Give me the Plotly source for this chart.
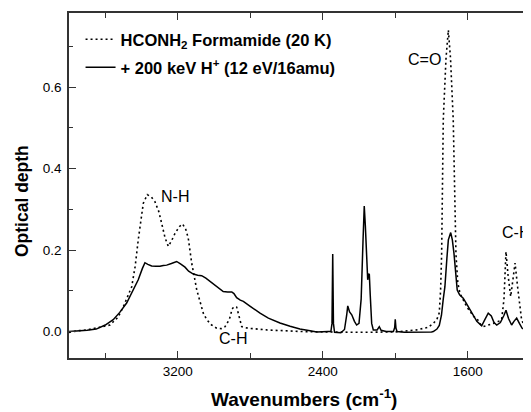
import plotly.graph_objects as go

# Formamide (20 K) - dotted
wn_pure = [3800, 3750, 3700, 3629, 3574, 3530, 3500, 3454, 3435, 3418, 3400, 3390, 3368,
           3345, 3326, 3305, 3289, 3270, 3252, 3235, 3215, 3190, 3173, 3155, 3142, 3123,
           3095, 3077, 3059, 3040, 3013, 2985, 2960, 2939, 2915, 2900, 2890, 2875, 2862,
           2847, 2811, 2709, 2526, 2433, 2200, 2000, 1882, 1820, 1790, 1770, 1757, 1750,
           1744, 1735, 1720, 1707, 1695, 1680, 1665, 1655, 1643, 1625, 1606, 1580, 1569,
           1551, 1530, 1514, 1490, 1459, 1430, 1413, 1400, 1389, 1378, 1363, 1350, 1339,
           1325, 1303, 1284, 1250]
od_pure = [-0.002, 0.002, 0.004, 0.010, 0.016, 0.035, 0.061, 0.110, 0.160, 0.225, 0.290, 0.315, 0.336,
           0.330, 0.319, 0.295, 0.266, 0.230, 0.209, 0.222, 0.241, 0.258, 0.264, 0.250, 0.229, 0.168,
           0.102, 0.070, 0.045, 0.029, 0.016, 0.008, 0.007, 0.012, 0.030, 0.055, 0.061, 0.060, 0.035,
           0.012, 0.008, 0.004, 0.000, -0.001, -0.002, -0.001, 0.004, 0.010, 0.020, 0.030, 0.046, 0.100,
           0.190, 0.520, 0.670, 0.740, 0.670, 0.520, 0.190, 0.120, 0.094, 0.078, 0.061, 0.045, 0.037,
           0.033, 0.018, 0.012, 0.015, 0.020, 0.025, 0.029, 0.080, 0.196, 0.140, 0.086, 0.130, 0.168,
           0.110, 0.029, 0.010, 0.000]

# + 200 keV H+ irradiated - solid
wn_irr = [3800, 3750, 3700, 3650, 3629, 3600, 3556, 3520, 3482, 3454, 3418, 3395, 3381, 3365,
          3344, 3320, 3298, 3280, 3261, 3235, 3206, 3185, 3160, 3140, 3114, 3090, 3068, 3045,
          3022, 2995, 2967, 2949, 2925, 2902, 2890, 2875, 2855, 2838, 2800, 2746, 2700, 2636,
          2580, 2526, 2470, 2433, 2371, 2355, 2349, 2345, 2341, 2335, 2300, 2280, 2268, 2262,
          2252, 2240, 2225, 2213, 2200, 2188, 2178, 2171, 2165, 2158, 2152, 2147, 2143, 2138,
          2130, 2121, 2100, 2088, 2078, 2050, 2010, 2003, 2000, 1996, 1990, 1950, 1882, 1800,
          1790, 1770, 1757, 1745, 1735, 1726, 1715, 1707, 1694, 1685, 1676, 1665, 1658, 1645,
          1625, 1606, 1588, 1569, 1550, 1530, 1523, 1505, 1487, 1470, 1455, 1440, 1420, 1400,
          1389, 1375, 1358, 1345, 1330, 1315, 1300, 1284, 1250]
od_irr = [0.000, 0.001, 0.003, 0.006, 0.010, 0.016, 0.029, 0.047, 0.070, 0.094, 0.127, 0.155, 0.169, 0.165,
          0.161, 0.160, 0.160, 0.162, 0.163, 0.167, 0.172, 0.166, 0.158, 0.148, 0.141, 0.138, 0.137, 0.131,
          0.123, 0.112, 0.102, 0.098, 0.097, 0.097, 0.093, 0.083, 0.077, 0.074, 0.062, 0.045, 0.033, 0.021,
          0.013, 0.006, 0.002, -0.001, 0.000, 0.000, 0.020, 0.190, 0.020, -0.002, -0.003, 0.005, 0.040, 0.063,
          0.048, 0.041, 0.025, 0.016, 0.020, 0.080, 0.220, 0.308, 0.260, 0.160, 0.127, 0.142, 0.140, 0.090,
          0.020, 0.004, 0.004, 0.012, 0.003, 0.000, 0.000, 0.010, 0.030, 0.008, 0.000, -0.002, -0.002, -0.001,
          0.000, 0.006, 0.015, 0.040, 0.080, 0.110, 0.180, 0.225, 0.243, 0.225, 0.192, 0.140, 0.102, 0.090,
          0.082, 0.068, 0.053, 0.038, 0.025, 0.017, 0.014, 0.030, 0.045, 0.038, 0.022, 0.016, 0.022, 0.040,
          0.052, 0.032, 0.016, 0.025, 0.033, 0.020, 0.008, 0.004, 0.008]

x_major = [3200, 2400, 1600]
x_minor = [3600, 2800, 2000]
y_major = [0.0, 0.2, 0.4, 0.6]
y_minor = [0.1, 0.3, 0.5, 0.7]

band_labels = ["N-H", "C-H", "C=O", "C-H"]
band_x = [3215, 2895, 1841, 1334]
band_y = [0.331, -0.018, 0.667, 0.242]

FONT = "Liberation Sans, Arial, Helvetica, sans-serif"

fig = go.Figure()
fig.add_trace(go.Scatter(
    x=wn_pure, y=od_pure, mode="lines",
    name="<b>HCONH<sub>2</sub> Formamide (20 K)</b>",
    line=dict(color="black", width=1.6, dash="2px,3px"),
    legend="legend",
))
fig.add_trace(go.Scatter(
    x=wn_irr, y=od_irr, mode="lines",
    name="<b>+ 200 keV H<sup>+</sup> (12 eV/16amu)</b>",
    line=dict(color="black", width=1.5),
    legend="legend2",
))

for t, bx, by in zip(band_labels, band_x, band_y):
    fig.add_annotation(x=bx, y=by, text=t, showarrow=False,
                       xanchor="center", yanchor="middle",
                       font=dict(family=FONT, size=16, color="black"))

fig.add_annotation(xref="paper", yref="paper", x=0.509, y=-0.116,
                   xanchor="center", yanchor="middle",
                   text="<b>Wavenumbers (cm<sup>-1</sup>)</b>", showarrow=False,
                   font=dict(family=FONT, size=19, color="black"))
fig.add_annotation(xref="paper", yref="paper", x=-0.1017, y=0.455,
                   xanchor="center", yanchor="middle",
                   text="<b>Optical depth</b>", showarrow=False, textangle=-90,
                   font=dict(family=FONT, size=17.5, color="black"))

leg_common = dict(xanchor="left", yanchor="top", bgcolor="rgba(0,0,0,0)",
                  font=dict(family=FONT, size=16.5, color="black"))
fig.update_layout(
    width=523, height=404,
    margin=dict(l=61, r=0, t=5, b=54),
    paper_bgcolor="white", plot_bgcolor="white",
    font=dict(family=FONT, color="black"),
    showlegend=True,
    legend=dict(x=0.025, y=0.974, **leg_common),
    legend2=dict(x=0.025, y=0.893, **leg_common),
)
fig.update_xaxes(
    range=[3800, 1251], showgrid=False, zeroline=False,
    showline=True, linecolor="#333", linewidth=1.5, mirror="ticks",
    tickmode="array", tickvals=x_major, ticks="inside", ticklen=7, tickwidth=1.2, tickcolor="#333",
    tickfont=dict(family=FONT, size=13.5, color="black"),
    minor=dict(tickmode="array", tickvals=x_minor, ticks="inside", ticklen=5, tickwidth=1.2, tickcolor="#333"),
)
fig.update_yaxes(
    range=[-0.065, 0.782], showgrid=False, zeroline=False,
    showline=True, linecolor="#333", linewidth=1.5, mirror=False,
    tickmode="array", tickvals=y_major, tickformat=".1f",
    ticks="inside", ticklen=7, tickwidth=1.2, tickcolor="#333",
    tickfont=dict(family=FONT, size=13.5, color="black"), ticklabelstandoff=3,
    minor=dict(tickmode="array", tickvals=y_minor, ticks="inside", ticklen=4, tickwidth=1.2, tickcolor="#333"),
)

fig.write_html("out.html")
